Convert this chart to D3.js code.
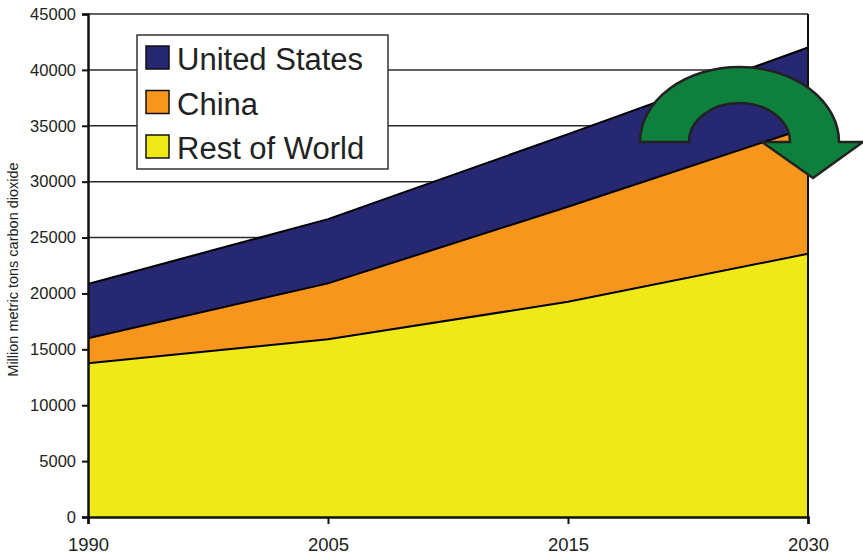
<!DOCTYPE html>
<html>
<head>
<meta charset="utf-8">
<script src="https://cdn.jsdelivr.net/npm/d3@7"></script>
<style>
  html, body { margin: 0; padding: 0; background: #fff; }
  svg { display: block; font-family: "Liberation Sans", Arial, Helvetica, sans-serif; }
</style>
</head>
<body>
<svg id="chart"></svg>
<script>
const width = 863;
const height = 557;

const years = ['1990', '2005', '2015', '2030'];
const restOfWorld = [13750, 15900, 19250, 23550];
const china = [2250, 5000, 8500, 11300];          // stacked on top of rest of world
const unitedStates = [4850, 5750, 6500, 7150];    // stacked on top of china
const yTicks = [0, 5000, 10000, 15000, 20000, 25000, 30000, 35000, 40000, 45000];
const seriesNames = ['United States', 'China', 'Rest of World'];
const seriesColors = ['#262872', '#f7961d', '#f0e918'];

const plotLeft = 88, plotRight = 808, plotTop = 14, plotBottom = 517;

const svg = d3.select('#chart')
    .attr('width', width)
    .attr('height', height);

const x = d3.scalePoint().domain(years).range([plotLeft, plotRight]);
const y = d3.scaleLinear().domain([0, 45000]).range([plotBottom, plotTop]);

const rows = years.map((yr, i) => ({
    year: yr,
    rest: restOfWorld[i],
    china: china[i],
    us: unitedStates[i]
}));

const keys = ['rest', 'china', 'us'];
const colorOf = { rest: seriesColors[2], china: seriesColors[1], us: seriesColors[0] };
const stacked = d3.stack().keys(keys)(rows);

// grid lines
svg.append('g')
    .selectAll('line')
    .data(yTicks.slice(1))
    .join('line')
    .attr('x1', plotLeft)
    .attr('x2', plotRight)
    .attr('y1', d => y(d))
    .attr('y2', d => y(d))
    .attr('stroke', '#2b2b2b')
    .attr('stroke-width', 1.5);

// areas
const area = d3.area()
    .x(d => x(d.data.year))
    .y0(d => y(d[0]))
    .y1(d => y(d[1]));

svg.append('g')
    .selectAll('path')
    .data(stacked)
    .join('path')
    .attr('d', area)
    .attr('fill', d => colorOf[d.key]);

const topLine = d3.line()
    .x(d => x(d.data.year))
    .y(d => y(d[1]));

svg.append('g')
    .selectAll('path')
    .data(stacked)
    .join('path')
    .attr('d', topLine)
    .attr('fill', 'none')
    .attr('stroke', '#000')
    .attr('stroke-width', 2);

// right frame
svg.append('line')
    .attr('x1', plotRight).attr('x2', plotRight)
    .attr('y1', y(45000)).attr('y2', plotBottom)
    .attr('stroke', '#111')
    .attr('stroke-width', 2);

// axes
const yAxis = svg.append('g')
    .attr('transform', `translate(${plotLeft},0)`)
    .call(d3.axisLeft(y).tickValues(yTicks).tickSize(6).tickPadding(6).tickFormat(d3.format('d')));

const xAxis = svg.append('g')
    .attr('transform', `translate(0,${plotBottom})`)
    .call(d3.axisBottom(x).tickSize(7).tickPadding(14));

[yAxis, xAxis].forEach(ax => {
    ax.select('.domain').attr('stroke', '#111').attr('stroke-width', 2.5);
    ax.selectAll('.tick line').attr('stroke', '#111').attr('stroke-width', 2);
    ax.selectAll('.tick text')
        .attr('fill', '#222')
        .style('font-family', '"Liberation Sans", Arial, sans-serif');
});
yAxis.selectAll('.tick text').attr('font-size', 16.5);
xAxis.selectAll('.tick text').attr('font-size', 18.5);

// y title
svg.append('text')
    .attr('transform', `translate(18,${(plotTop + plotBottom) / 2 + 4}) rotate(-90)`)
    .attr('text-anchor', 'middle')
    .attr('font-size', 14.5)
    .attr('fill', '#222')
    .text('Million metric tons carbon dioxide');

// legend
const legend = svg.append('g');
legend.append('rect')
    .attr('x', 137).attr('y', 35)
    .attr('width', 251).attr('height', 134)
    .attr('fill', '#fff')
    .attr('stroke', '#333')
    .attr('stroke-width', 1.5);

const items = legend.selectAll('g.item')
    .data(seriesNames)
    .join('g')
    .attr('class', 'item')
    .attr('transform', (d, i) => `translate(146,${46 + i * 44.5})`);

items.append('rect')
    .attr('width', 23).attr('height', 23)
    .attr('fill', (d, i) => seriesColors[i])
    .attr('stroke', '#111')
    .attr('stroke-width', 1.5);

items.append('text')
    .attr('x', 31)
    .attr('y', 24)
    .attr('font-size', 31)
    .attr('fill', '#222')
    .text(d => d);

// green curved arrow
svg.append('path')
    .attr('d', 'M640,142 A99.5,75 0 0 1 839,142 L863,142 L813,178 L762,142 L790,142 A50.5,39 0 0 0 689,142 Z')
    .attr('fill', '#0f7f3e')
    .attr('stroke', '#222')
    .attr('stroke-width', 2.5)
    .attr('stroke-linejoin', 'miter');
</script>
</body>
</html>
